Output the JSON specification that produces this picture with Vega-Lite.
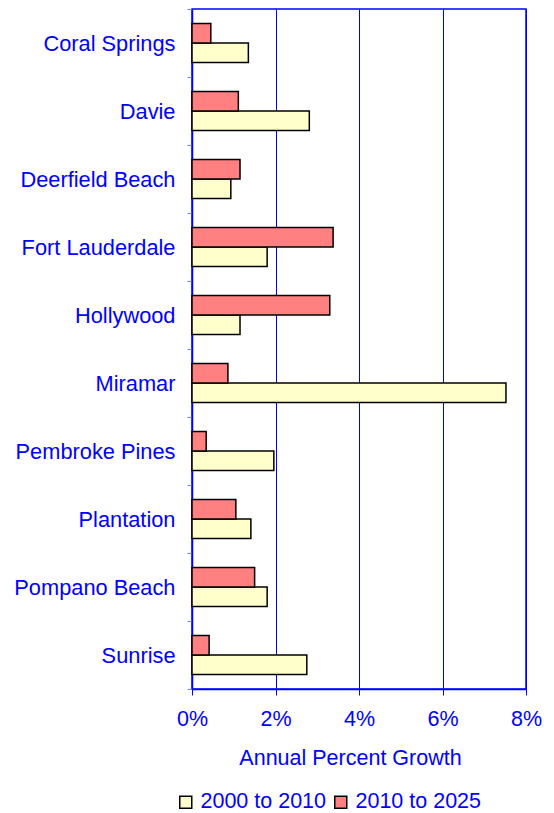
{
  "$schema": "https://vega.github.io/schema/vega-lite/v6.json",
  "autosize": {"type": "none"},
  "width": 334,
  "height": 680,
  "padding": {"left": 192, "top": 9, "right": 28, "bottom": 124},
  "background": "white",
  "config": {
    "font": "Liberation Sans",
    "view": {"stroke": "#0000FF", "strokeWidth": 1.5},
    "axis": {"domainColor": "#0000FF", "tickColor": "#0000FF", "labelColor": "#0000FF", "titleColor": "#0000FF", "labelFont": "Liberation Sans", "titleFont": "Liberation Sans"}
  },
  "data": {
    "values": [
      {"city": "Coral Springs", "period": "2000 to 2010", "growth": 1.35},
      {"city": "Coral Springs", "period": "2010 to 2025", "growth": 0.45},
      {"city": "Davie", "period": "2000 to 2010", "growth": 2.81},
      {"city": "Davie", "period": "2010 to 2025", "growth": 1.11},
      {"city": "Deerfield Beach", "period": "2000 to 2010", "growth": 0.93},
      {"city": "Deerfield Beach", "period": "2010 to 2025", "growth": 1.15},
      {"city": "Fort Lauderdale", "period": "2000 to 2010", "growth": 1.8},
      {"city": "Fort Lauderdale", "period": "2010 to 2025", "growth": 3.38},
      {"city": "Hollywood", "period": "2000 to 2010", "growth": 1.15},
      {"city": "Hollywood", "period": "2010 to 2025", "growth": 3.3},
      {"city": "Miramar", "period": "2000 to 2010", "growth": 7.52},
      {"city": "Miramar", "period": "2010 to 2025", "growth": 0.86},
      {"city": "Pembroke Pines", "period": "2000 to 2010", "growth": 1.96},
      {"city": "Pembroke Pines", "period": "2010 to 2025", "growth": 0.34},
      {"city": "Plantation", "period": "2000 to 2010", "growth": 1.41},
      {"city": "Plantation", "period": "2010 to 2025", "growth": 1.05},
      {"city": "Pompano Beach", "period": "2000 to 2010", "growth": 1.8},
      {"city": "Pompano Beach", "period": "2010 to 2025", "growth": 1.5},
      {"city": "Sunrise", "period": "2000 to 2010", "growth": 2.75},
      {"city": "Sunrise", "period": "2010 to 2025", "growth": 0.41}
    ]
  },
  "mark": {"type": "bar", "stroke": "#000000", "strokeWidth": 1.5},
  "encoding": {
    "y": {
      "field": "city",
      "type": "nominal",
      "sort": null,
      "scale": {"paddingInner": 0, "paddingOuter": 0},
      "axis": {
        "title": null,
        "labelFontSize": 21.8,
        "labelPadding": 12,
        "tickSize": 5,
        "tickBand": "extent",
        "tickColor": "#7F7FFF",
        "domainWidth": 1.5
      }
    },
    "yOffset": {
      "field": "period",
      "type": "nominal",
      "sort": ["2010 to 2025", "2000 to 2010"],
      "scale": {"paddingInner": 0, "paddingOuter": 0.744}
    },
    "x": {
      "field": "growth",
      "type": "quantitative",
      "scale": {"domain": [0, 8], "nice": false},
      "axis": {
        "title": "Annual Percent Growth",
        "values": [0, 2, 4, 6, 8],
        "labelExpr": "datum.value + '%'",
        "labelFlush": false,
        "labelFontSize": 21.5,
        "titleFontSize": 21.5,
        "titleFontWeight": "normal",
        "titleX": 158,
        "labelPadding": 13,
        "titlePadding": 18,
        "tickSize": 6,
        "grid": true,
        "gridColor": "#0000FF",
        "gridWidth": 1,
        "gridOpacity": 1,
        "domainWidth": 1.5
      }
    },
    "color": {
      "field": "period",
      "type": "nominal",
      "scale": {"domain": ["2000 to 2010", "2010 to 2025"], "range": ["#FFFFCC", "#FF8080"]},
      "legend": {
        "title": null,
        "orient": "none",
        "direction": "horizontal",
        "legendX": -17,
        "legendY": 782,
        "symbolType": "square",
        "symbolSize": 144,
        "symbolStrokeColor": "#000000",
        "symbolStrokeWidth": 1.5,
        "symbolFillOpacity": 1,
        "labelFontSize": 21.5,
        "labelColor": "#0000FF",
        "labelFont": "Liberation Sans",
        "labelOffset": 4,
        "columnPadding": 3
      }
    }
  }
}
